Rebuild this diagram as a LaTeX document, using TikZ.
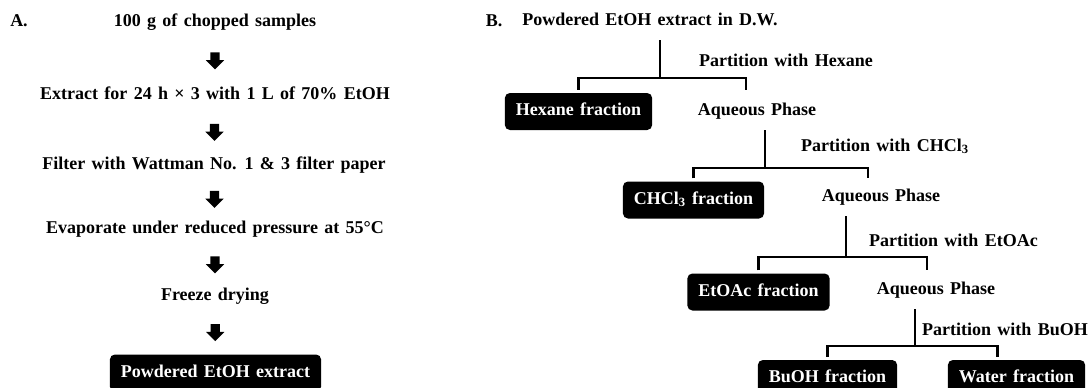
\documentclass[tikz,border=0pt]{standalone}
\usepackage{fontspec}
\setmainfont{Liberation Serif}[WordSpace=1.4]
\usetikzlibrary{shapes.arrows}
\tikzset{
  stp/.style={font=\bfseries\fontsize{18}{20}\selectfont, inner sep=2pt, text height=12pt, text depth=4pt},
  frac/.style={stp, fill=black, text=white, rounded corners=5pt, minimum height=37pt, inner xsep=11pt},
  plab/.style={stp, anchor=west},
  darr/.style={single arrow, fill=black, draw=none, minimum height=17pt, inner xsep=0pt, inner ysep=4.5pt,
    single arrow head extend=4.5pt, single arrow head indent=0pt, rotate=-90},
  brk/.style={line width=2.5pt}
}

\begin{document}
\begin{tikzpicture}[x=1pt, y=-1pt]
	\useasboundingbox (0,0) rectangle (1092,388);
	% A: extraction
	\node[stp] (la) at (19,22) {A.};
	\node[stp] (s1) at (215,22) {100 g of chopped samples};
	\node[stp] (s2) at (215,95) {Extract for 24 h × 3 with 1 L of 70\% EtOH};
	\node[stp] (s3) at (214,165) {Filter with Wattman No. 1 \& 3 filter paper};
	\node[stp] (s4) at (215,229) {Evaporate under reduced pressure at 55°C};
	\node[stp] (s5) at (215,296) {Freeze drying};
	\node[frac] (ext) at (215.5,373) {Powdered EtOH extract};
	\foreach \a/\b in {s1/s2, s2/s3, s3/s4, s4/s5, s5/ext}
		\path (\a) -- node[darr] {} (\b);
	% B: solvent partition
	\node[stp] (lb) at (494,22) {B.};
	\node[stp] (src) at (650,21) {Powdered EtOH extract in D.W.};
	\node[frac] (hex) at (578.5,111.5) {Hexane fraction};
	\node[stp] (aq1) at (757,111) {Aqueous Phase};
	\node[frac] (chl) at (693.5,200) {CHCl\textsubscript{3} fraction};
	\node[stp] (aq2) at (881,197) {Aqueous Phase};
	\node[frac] (eto) at (758.5,292) {EtOAc fraction};
	\node[stp] (aq3) at (936,290) {Aqueous Phase};
	\node[frac] (buo) at (827.5,378.5) {BuOH fraction};
	\node[frac] (wat) at (1016.5,378.5) {Water fraction};
	\node[plab] (p1) at (697,62) {Partition with Hexane};
	\node[plab] (p2) at (799,147) {Partition with CHCl\textsubscript{3}};
	\node[plab] (p3) at (867,242) {Partition with EtOAc};
	\node[plab] (p4) at (920,331) {Partition with BuOH};
	\coordinate (j1) at (660,78);
	\coordinate (j2) at (765,168);
	\coordinate (j3) at (846,257);
	\coordinate (j4) at (915,346);
	\foreach \p/\l/\r/\j/\d in {src/hex/aq1/j1/-11, aq1/chl/aq2/j2/-13, aq2/eto/aq3/j3/-9, aq3/buo/wat/j4/-19} {
		\draw[brk, shorten <=9pt] (\p.south -| \j) -- (\j);
		\draw[brk, shorten <=3pt, shorten >=3pt] (\l.north) |- (\j) -| ([xshift=\d pt]\r.north |- \l.north);
	}
\end{tikzpicture}
\end{document}
